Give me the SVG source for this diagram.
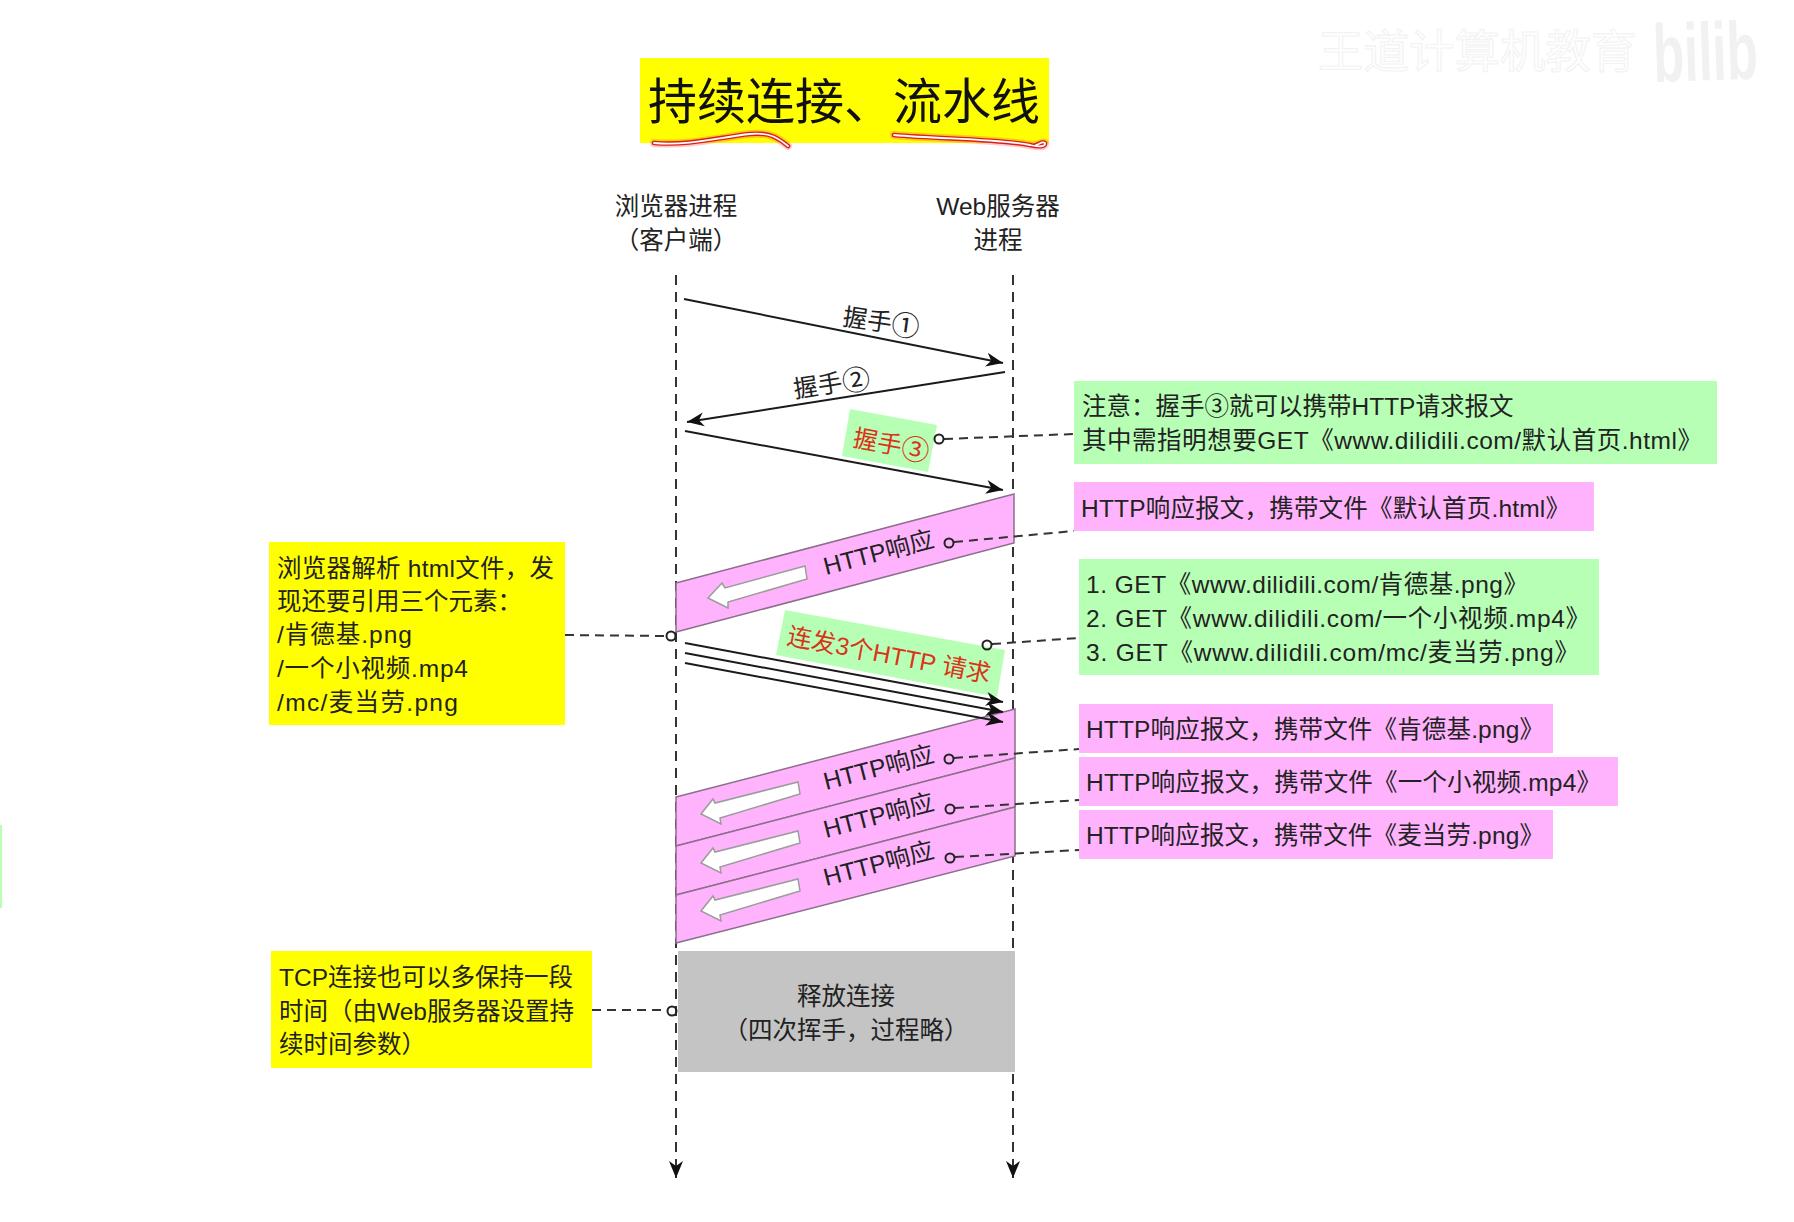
<svg xmlns="http://www.w3.org/2000/svg" width="1794" height="1222" viewBox="0 0 1794 1222">
<style>
text{font-family:"Liberation Sans","Noto Sans CJK SC",sans-serif;font-size:24.5px;fill:#222}
.c{text-anchor:middle}
.n{font-size:28px}
.line{fill:none;stroke:#1a1a1a;stroke-width:2}
.dash{fill:none;stroke:#333;stroke-width:2;stroke-dasharray:9 6}
.life{fill:none;stroke:#333;stroke-width:2;stroke-dasharray:10 7}
.dot{fill:none;stroke:#222;stroke-width:2}
.pink{fill:#ffb3fd}
.green{fill:#b8ffb6}
.yellow{fill:#ffff00}
.band{fill:#ffb3fd;stroke:#8b6f8b;stroke-width:1.5}
.arrow{fill:#fff;stroke:#9c9c9c;stroke-width:1.5}
.red{fill:#d8351a}
.ul{fill:none;stroke-linecap:round;stroke-linejoin:round}
.glow{stroke:#ff4a3a;stroke-width:8;stroke-opacity:.3}
.mid{stroke:#d81e1e;stroke-width:4.5}
.core{stroke:#fff;stroke-width:1.8}
</style>
<defs>
<marker id="ah" markerUnits="userSpaceOnUse" markerWidth="18" markerHeight="16" refX="17" refY="8" orient="auto"><path d="M0,1 L17,8 L0,15 L5,8 Z" fill="#111"/></marker>
<path id="u1" d="M654,143 C690,146 720,137 750,134 C770,132 778,138 788,146"/>
<path id="u2" d="M894,135 C940,139 1000,139 1030,145 C1038,147 1046,147 1045,143 C1042,141 1040,144 1036,145"/>
</defs>
<rect width="1794" height="1222" fill="#fff"/>
<g id="watermark">
<text x="1318" y="68" style="font-size:45.5px;fill:#fff;stroke:#f3f3f3;stroke-width:1.2">王道计算机教育</text>
<text transform="translate(1654 82) rotate(-2) scale(0.62 1)" style="font-size:82px;font-weight:700;fill:#f1f1f1">bilib</text>
</g>
<rect id="edge-mark" x="0" y="825" width="2" height="83" fill="#b8ffb6"/>
<g id="title">
<rect x="640" y="58" width="409" height="85" fill="#ffff00"/>
<text x="648" y="119" style="font-size:49px;fill:#111">持续连接、流水线</text>
<use href="#u1" class="ul glow"/><use href="#u1" class="ul mid"/><use href="#u1" class="ul core"/>
<use href="#u2" class="ul glow"/><use href="#u2" class="ul mid"/><use href="#u2" class="ul core"/>
</g>
<g id="client-label">
<text class="c" x="676" y="215">浏览器进程</text>
<text class="c" x="676" y="249">（客户端）</text>
</g>
<g id="server-label">
<text class="c" x="998" y="215">Web服务器</text>
<text class="c" x="998" y="249">进程</text>
</g>
<g id="connectors">
<path class="life" d="M676,275 V1178" marker-end="url(#ah)"/>
<path class="life" d="M1013,275 V1178" marker-end="url(#ah)"/>
<path class="line" d="M684,299 L1003,363" marker-end="url(#ah)"/>
<path class="line" d="M1005,372 L687,422" marker-end="url(#ah)"/>
<path class="line" d="M685,431 L1003,490" marker-end="url(#ah)"/>
</g>
<g id="handshake1"><text x="842" y="325" transform="rotate(8 842 325)">握手<tspan class="n" dy="2">①</tspan></text></g>
<g id="handshake2"><text x="795" y="398" transform="rotate(-9 795 398)">握手<tspan class="n" dy="2">②</tspan></text></g>
<g id="handshake3">
<polygon class="green" points="850,409 937,425 928,472 842,456"/>
<text class="red" x="852" y="446" transform="rotate(10.5 852 446)">握手<tspan class="n" dy="2">③</tspan></text>
</g>
<g id="response1">
<polygon class="band" points="676,583 1014,494 1014,543 676,632"/>
<polygon class="arrow" points="708,598 722,583 725,588 805,566 807,579 728,602 728,608"/>
<text x="826" y="575" transform="rotate(-14.5 826 575)">HTTP响应</text>
</g>
<g id="burst-label">
<polygon class="green" points="785,610 1005,650 997,697 776,655"/>
<text class="red" x="786" y="644" transform="rotate(10.8 786 644)">连发3个HTTP 请求</text>
</g>
<g id="burst-arrows">
<path class="line" d="M685,643 L1003,702" marker-end="url(#ah)"/>
</g>
<g id="responses">
<polygon class="band" points="676,797 1015,709 1015,758 676,846"/>
<polygon class="band" points="676,846 1015,758 1015,807 676,895"/>
<polygon class="band" points="676,895 1015,807 1015,856 676,943"/>
<g id="arrows3">
<polygon class="arrow" points="701,814 713,799 715,803 798,782 800,794 720,818 721,824"/>
<polygon class="arrow" points="701,863 713,848 715,852 798,831 800,843 720,867 721,873"/>
<polygon class="arrow" points="701,911 713,896 715,900 798,879 800,891 720,915 721,921"/>
</g>
<text x="826" y="790" transform="rotate(-14.5 826 790)">HTTP响应</text>
<text x="826" y="838" transform="rotate(-14.5 826 838)">HTTP响应</text>
<text x="826" y="886" transform="rotate(-14.5 826 886)">HTTP响应</text>
</g>
<g id="connectors-front">
<path class="line" d="M685,653 L1003,712" marker-end="url(#ah)"/>
<path class="line" d="M685,663 L1003,722" marker-end="url(#ah)"/>
<path class="dash" d="M944,439 L1074,434"/>
<path class="dash" d="M954,542 L1074,531"/>
<path class="dash" d="M992,644 L1079,638"/>
<path class="dash" d="M954,758 L1079,749"/>
<path class="dash" d="M955,808 L1079,800"/>
<path class="dash" d="M955,857 L1079,850"/>
<path class="dash" d="M565,635 L666,636"/>
<path class="dash" d="M592,1010 L667,1010"/>
<circle class="dot" cx="939" cy="439" r="4.5"/>
<circle class="dot" cx="949" cy="543" r="4.5"/>
<circle class="dot" cx="987" cy="645" r="4.5"/>
<circle class="dot" cx="949" cy="759" r="4.5"/>
<circle class="dot" cx="950" cy="809" r="4.5"/>
<circle class="dot" cx="950" cy="858" r="4.5"/>
<circle class="dot" cx="671" cy="636" r="4.5"/>
<circle class="dot" cx="672" cy="1011" r="4.5"/>
</g>
<g id="note-handshake">
<rect class="green" x="1074" y="381" width="643" height="83"/>
<text x="1082" y="415">注意：握手③就可以携带HTTP请求报文</text>
<text x="1082" y="449" textLength="620">其中需指明想要GET《www.dilidili.com/默认首页.html》</text>
</g>
<g id="note-response-html">
<rect class="pink" x="1074" y="482" width="520" height="49"/>
<text x="1081" y="517" textLength="489">HTTP响应报文，携带文件《默认首页.html》</text>
</g>
<g id="note-get">
<rect class="green" x="1079" y="559" width="520" height="116"/>
<text x="1086" y="593" textLength="442">1. GET《www.dilidili.com/肯德基.png》</text>
<text x="1086" y="627" textLength="504">2. GET《www.dilidili.com/一个小视频.mp4》</text>
<text x="1086" y="661" textLength="493">3. GET《www.dilidili.com/mc/麦当劳.png》</text>
</g>
<g id="note-response-png1">
<rect class="pink" x="1079" y="704" width="474" height="49"/>
<text x="1086" y="738" textLength="458">HTTP响应报文，携带文件《肯德基.png》</text>
</g>
<g id="note-response-mp4">
<rect class="pink" x="1079" y="757" width="539" height="49"/>
<text x="1086" y="791" textLength="515">HTTP响应报文，携带文件《一个小视频.mp4》</text>
</g>
<g id="note-response-png2">
<rect class="pink" x="1079" y="810" width="474" height="49"/>
<text x="1086" y="844" textLength="458">HTTP响应报文，携带文件《麦当劳.png》</text>
</g>
<g id="note-parse">
<rect class="yellow" x="269" y="542" width="296" height="183"/>
<text x="277" y="577" textLength="277">浏览器解析 html文件，发</text>
<text x="277" y="610">现还要引用三个元素：</text>
<text x="277" y="643" textLength="135">/肯德基.png</text>
<text x="277" y="677" textLength="191">/一个小视频.mp4</text>
<text x="277" y="711" textLength="181">/mc/麦当劳.png</text>
</g>
<g id="note-keepalive">
<rect class="yellow" x="271" y="951" width="321" height="117"/>
<text x="279" y="986">TCP连接也可以多保持一段</text>
<text x="279" y="1020">时间（由Web服务器设置持</text>
<text x="279" y="1053">续时间参数）</text>
</g>
<g id="release">
<rect x="678" y="951" width="337" height="121" fill="#c4c4c4"/>
<text class="c" x="846" y="1005">释放连接</text>
<text class="c" x="846" y="1039">（四次挥手，过程略）</text>
</g>
</svg>
